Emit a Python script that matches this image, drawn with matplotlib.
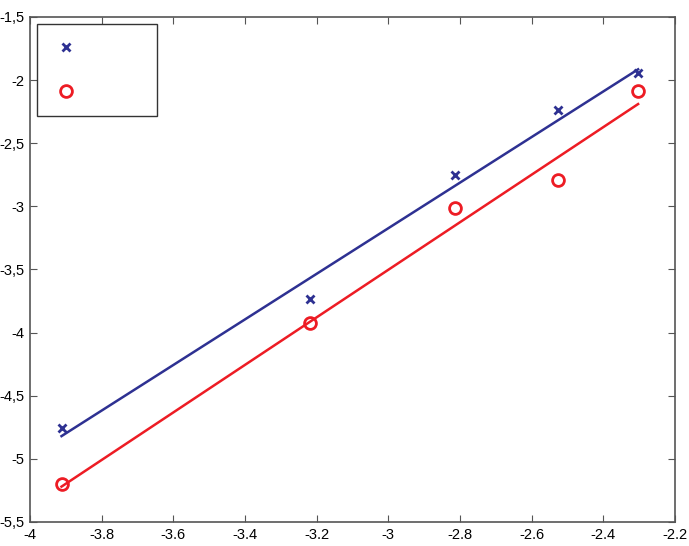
import numpy as np
import matplotlib.pyplot as plt
from matplotlib.lines import Line2D

# data (ln scale x values)
x_pts = [-3.912, -3.219, -2.813, -2.526, -2.303]
blue_y = [-4.755, -3.734, -2.751, -2.237, -1.944]
red_y = [-5.199, -3.924, -3.013, -2.791, -2.086]

# fitted lines (end points)
fit_x = [-3.912, -2.303]
blue_fit = [-4.82, -1.915]
red_fit = [-5.22, -2.19]

x_ticks = [-4, -3.8, -3.6, -3.4, -3.2, -3, -2.8, -2.6, -2.4, -2.2]
x_labels = ['-4', '-3.8', '-3.6', '-3.4', '-3.2', '-3', '-2.8', '-2.6', '-2.4', '-2.2']
y_ticks = [-5.5, -5, -4.5, -4, -3.5, -3, -2.5, -2, -1.5]
y_labels = ['-5,5', '-5', '-4,5', '-4', '-3,5', '-3', '-2,5', '-2', '-1,5']

blue = '#2e3192'
red = '#ed1c24'

plt.rcParams['font.family'] = ['Liberation Sans', 'DejaVu Sans']

fig = plt.figure(figsize=(6.89, 5.46), dpi=100)
ax = fig.add_axes([0.0435, 0.044, 0.9362, 0.925])

ax.plot(fit_x, blue_fit, color=blue, lw=1.8)
ax.plot(fit_x, red_fit, color=red, lw=1.8)
ax.plot(x_pts, blue_y, 'x', color=blue, ms=5.5, mew=2)
ax.plot(x_pts, red_y, 'o', color=red, ms=8.5, mew=2, mfc='none')

ax.set_xlim(-4, -2.2)
ax.set_ylim(-5.5, -1.5)
ax.set_xticks(x_ticks)
ax.set_xticklabels(x_labels)
ax.set_yticks(y_ticks)
ax.set_yticklabels(y_labels)
ax.tick_params(direction='in', top=True, right=True, length=5, labelsize=10.5,
               color='#555555', pad=4)
for s in ax.spines.values():
    s.set_color('#555555')
    s.set_linewidth(1.2)

handles = [Line2D([], [], ls='none', marker='x', color=blue, ms=5.5, mew=2),
           Line2D([], [], ls='none', marker='o', color=red, ms=8.5, mew=2, mfc='none')]
leg = ax.legend(handles, [' ', ' '], loc='upper left', mode='expand',
                bbox_to_anchor=(0.011, 0.804, 0.186, 0.182), borderaxespad=0,
                fancybox=False, edgecolor='#333333', framealpha=1,
                labelspacing=2.1, borderpad=1.15, handlelength=1.65, fontsize=10.5)
leg.get_frame().set_linewidth(1.0)

plt.savefig('out.png', dpi=100)
